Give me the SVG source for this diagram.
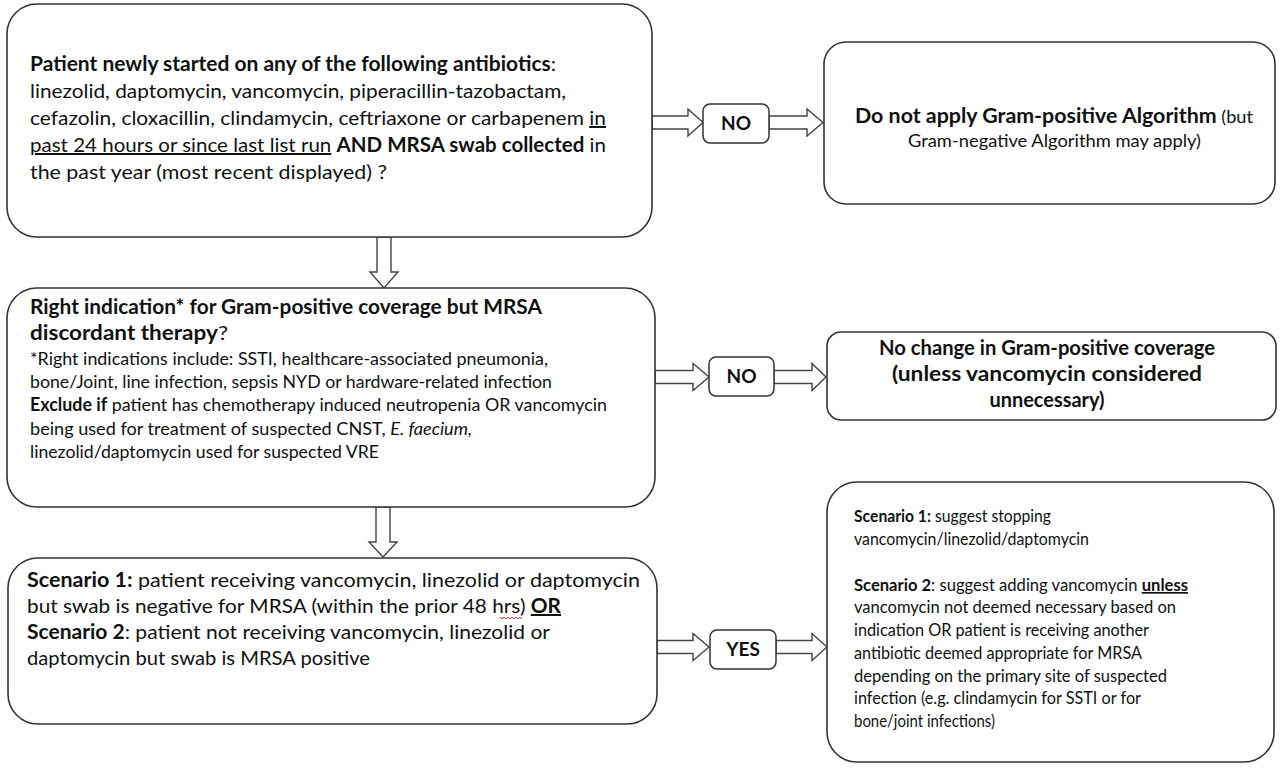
<svg xmlns="http://www.w3.org/2000/svg" width="1280" height="770" viewBox="0 0 1280 770">
<style>
.box{fill:#fff;stroke:#333;stroke-width:1.6}
.sbox{fill:#fff;stroke:#333;stroke-width:1.5}
.arr{fill:#fff;stroke:#444;stroke-width:1.4;stroke-linejoin:miter}
text{font-family:Lato,"Open Sans","Liberation Sans",sans-serif;fill:#111}
.t20{font-size:20px}
.t18{font-size:18px}
.t17{font-size:17px}
.b{font-weight:bold}
.u{text-decoration:underline}
.i{font-style:italic}
.lbl{font-size:19px;font-weight:bold;text-anchor:middle}
.c{text-anchor:middle}
.sq{fill:none;stroke:#d33;stroke-width:1}
</style>
<rect width="1280" height="770" fill="#fff"/>

<g id="connectors">
<polygon class="arr" points="652,116 688,116 688,109 703,122.5 688,136 688,129 652,129"/>
<polygon class="arr" points="769,116 807,116 807,109 823,122.5 807,136 807,129 769,129"/>
<polygon class="arr" points="655,370.5 693,370.5 693,363.5 709,377 693,390.5 693,383.5 655,383.5"/>
<polygon class="arr" points="774,370.5 812,370.5 812,363.5 826,377 812,390.5 812,383.5 774,383.5"/>
<polygon class="arr" points="657,640.5 693,640.5 693,633.5 709,647 693,660.5 693,653.5 657,653.5"/>
<polygon class="arr" points="776,640.5 812,640.5 812,633.5 827,647 812,660.5 812,653.5 776,653.5"/>
<polygon class="arr" points="377,237 391,237 391,272 398,272 384,288 370,272 377,272"/>
<polygon class="arr" points="376,507 390,507 390,542 397,542 383,557 369,542 376,542"/>
</g>

<g id="start">
<rect class="box" x="7" y="4" width="645" height="233" rx="30"/>
<text class="t20" x="30" y="71" textLength="526" lengthAdjust="spacingAndGlyphs"><tspan class="b">Patient newly started on any of the following antibiotics</tspan>:</text>
<text class="t20" x="30" y="98" textLength="536" lengthAdjust="spacingAndGlyphs">linezolid, daptomycin, vancomycin, piperacillin-tazobactam,</text>
<text class="t20" x="30" y="125" textLength="576" lengthAdjust="spacingAndGlyphs">cefazolin, cloxacillin, clindamycin, ceftriaxone or carbapenem <tspan class="u">in</tspan></text>
<text class="t20" x="30" y="152" textLength="576" lengthAdjust="spacingAndGlyphs"><tspan class="u">past 24 hours or since last list run</tspan> <tspan class="b">AND MRSA swab collected</tspan> in</text>
<text class="t20" x="30" y="179" textLength="357" lengthAdjust="spacingAndGlyphs">the past year (most recent displayed) ?</text>
</g>

<g id="no1">
<rect class="sbox" x="703" y="104" width="66" height="39" rx="7"/>
<text class="lbl" x="736" y="130">NO</text>
</g>

<g id="notapply">
<rect class="box" x="824" y="42" width="451" height="162" rx="22"/>
<text x="855" y="123" textLength="398" lengthAdjust="spacingAndGlyphs"><tspan class="b t20">Do not apply Gram-positive Algorithm</tspan><tspan class="t17"> (but</tspan></text>
<text class="t18" x="908" y="147" textLength="293" lengthAdjust="spacingAndGlyphs">Gram-negative Algorithm may apply)</text>
</g>

<g id="indication">
<rect class="box" x="7" y="288" width="648" height="219" rx="30"/>
<text class="t20 b" x="30" y="314" textLength="512" lengthAdjust="spacingAndGlyphs">Right indication* for Gram-positive coverage but MRSA</text>
<text class="t20" x="30" y="340" textLength="198" lengthAdjust="spacingAndGlyphs"><tspan class="b">discordant therapy</tspan>?</text>
<text class="t18" x="30" y="365" textLength="518" lengthAdjust="spacingAndGlyphs">*Right indications include: SSTI, healthcare-associated pneumonia,</text>
<text class="t18" x="30" y="388" textLength="522" lengthAdjust="spacingAndGlyphs">bone/Joint, line infection, sepsis NYD or hardware-related infection</text>
<text class="t18" x="30" y="411" textLength="577" lengthAdjust="spacingAndGlyphs"><tspan class="b">Exclude if</tspan> patient has chemotherapy induced neutropenia OR vancomycin</text>
<text class="t18" x="30" y="435" textLength="442" lengthAdjust="spacingAndGlyphs">being used for treatment of suspected CNST, <tspan class="i">E. faecium,</tspan></text>
<text class="t18" x="30" y="458" textLength="349" lengthAdjust="spacingAndGlyphs">linezolid/daptomycin used for suspected VRE</text>
</g>

<g id="no2">
<rect class="sbox" x="709" y="357" width="65" height="39" rx="7"/>
<text class="lbl" x="741.5" y="383">NO</text>
</g>

<g id="nochange">
<rect class="box" x="827" y="332" width="449" height="88" rx="14"/>
<text class="t20 b c" x="1047" y="355" textLength="336" lengthAdjust="spacingAndGlyphs">No change in Gram-positive coverage</text>
<text class="t20 b c" x="1047" y="381" textLength="310" lengthAdjust="spacingAndGlyphs">(unless vancomycin considered</text>
<text class="t20 b c" x="1047" y="407" textLength="115" lengthAdjust="spacingAndGlyphs">unnecessary)</text>
</g>

<g id="scenario">
<rect class="box" x="8" y="558" width="649" height="166" rx="30"/>
<text class="t20" x="27" y="587" textLength="613" lengthAdjust="spacingAndGlyphs"><tspan class="b">Scenario 1:</tspan> patient receiving vancomycin, linezolid or daptomycin</text>
<text class="t20" x="27" y="613" textLength="534" lengthAdjust="spacingAndGlyphs">but swab is negative for MRSA (within the prior 48 hrs) <tspan class="b u">OR</tspan></text>
<path class="sq" d="M500,617 l2,2 l2,-2 l2,2 l2,-2 l2,2 l2,-2 l2,2 l2,-2 l2,2 l2,-2 l2,2"/>
<text class="t20" x="27" y="639" textLength="523" lengthAdjust="spacingAndGlyphs"><tspan class="b">Scenario 2</tspan>: patient not receiving vancomycin, linezolid or</text>
<text class="t20" x="27" y="665" textLength="343" lengthAdjust="spacingAndGlyphs">daptomycin but swab is MRSA positive</text>
</g>

<g id="yes">
<rect class="sbox" x="710" y="630" width="66" height="39" rx="7"/>
<text class="lbl" x="743" y="656">YES</text>
</g>

<g id="suggest">
<rect class="box" x="827" y="482" width="447" height="280" rx="30"/>
<text class="t17" x="854" y="522" textLength="197" lengthAdjust="spacingAndGlyphs"><tspan class="b">Scenario 1:</tspan> suggest stopping</text>
<text class="t17" x="854" y="545" textLength="235" lengthAdjust="spacingAndGlyphs">vancomycin/linezolid/daptomycin</text>
<text class="t17" x="854" y="591" textLength="334" lengthAdjust="spacingAndGlyphs"><tspan class="b">Scenario 2</tspan>: suggest adding vancomycin <tspan class="b u">unless</tspan></text>
<text class="t17" x="854" y="613" textLength="322" lengthAdjust="spacingAndGlyphs">vancomycin not deemed necessary based on</text>
<text class="t17" x="854" y="636" textLength="295" lengthAdjust="spacingAndGlyphs">indication OR patient is receiving another</text>
<text class="t17" x="854" y="659" textLength="288" lengthAdjust="spacingAndGlyphs">antibiotic deemed appropriate for MRSA</text>
<text class="t17" x="854" y="682" textLength="313" lengthAdjust="spacingAndGlyphs">depending on the primary site of suspected</text>
<text class="t17" x="854" y="704" textLength="287" lengthAdjust="spacingAndGlyphs">infection (e.g. clindamycin for SSTI or for</text>
<text class="t17" x="854" y="727" textLength="141" lengthAdjust="spacingAndGlyphs">bone/joint infections)</text>
</g>
</svg>
